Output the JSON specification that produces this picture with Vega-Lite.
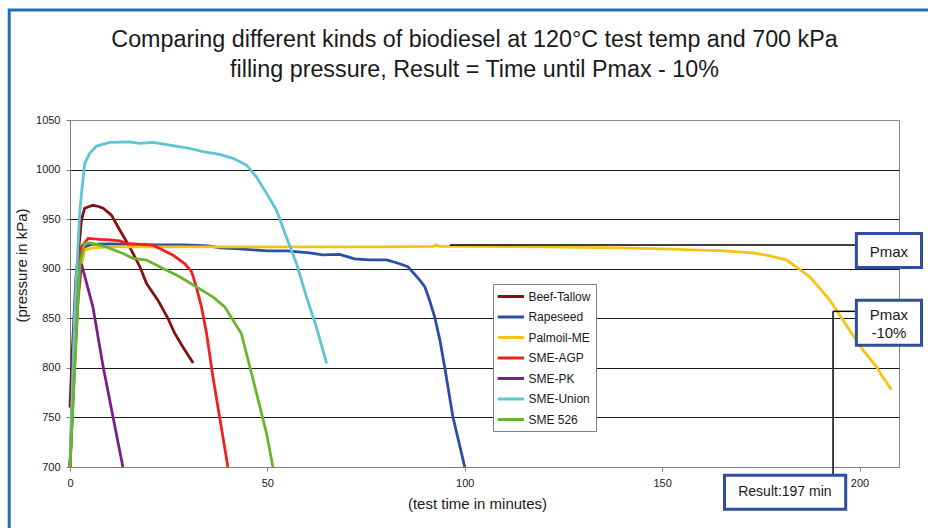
{
  "$schema": "https://vega.github.io/schema/vega-lite/v6.json",
  "width": 829,
  "height": 347,
  "autosize": {"type": "none"},
  "padding": {"left": 70, "top": 120, "right": 29, "bottom": 61},
  "background": "white",
  "config": {"view": {"stroke": "#888888", "strokeWidth": 1}, "font": "Liberation Sans"},
  "title": {
    "text": ["Comparing different kinds of biodiesel at 120°C test temp and 700 kPa", "filling pressure, Result = Time until Pmax - 10%"],
    "fontSize": 23.3,
    "font": "Liberation Sans",
    "fontWeight": "normal",
    "color": "#1a1a1a",
    "lineHeight": 30,
    "anchor": "middle",
    "frame": "group",
    "offset": -74,
    "dx": -10
  },
  "datasets": {
    "curves": [
      {"s": "Beef-Tallow", "t": 0, "p": 760}, {"s": "Beef-Tallow", "t": 0.5, "p": 810}, {"s": "Beef-Tallow", "t": 1.5, "p": 890}, {"s": "Beef-Tallow", "t": 2.9, "p": 949}, {"s": "Beef-Tallow", "t": 3.7, "p": 961}, {"s": "Beef-Tallow", "t": 5.8, "p": 964}, {"s": "Beef-Tallow", "t": 7, "p": 963}, {"s": "Beef-Tallow", "t": 8.4, "p": 961}, {"s": "Beef-Tallow", "t": 10.5, "p": 954}, {"s": "Beef-Tallow", "t": 12.6, "p": 939}, {"s": "Beef-Tallow", "t": 15.1, "p": 922}, {"s": "Beef-Tallow", "t": 17.7, "p": 902}, {"s": "Beef-Tallow", "t": 19.4, "p": 885}, {"s": "Beef-Tallow", "t": 22.3, "p": 868}, {"s": "Beef-Tallow", "t": 24.8, "p": 850}, {"s": "Beef-Tallow", "t": 26.5, "p": 835}, {"s": "Beef-Tallow", "t": 28.6, "p": 821}, {"s": "Beef-Tallow", "t": 31.2, "p": 805},
      {"s": "Rapeseed", "t": 0, "p": 700}, {"s": "Rapeseed", "t": 1, "p": 800}, {"s": "Rapeseed", "t": 2, "p": 880}, {"s": "Rapeseed", "t": 3, "p": 912}, {"s": "Rapeseed", "t": 3.7, "p": 922}, {"s": "Rapeseed", "t": 5.4, "p": 924.5}, {"s": "Rapeseed", "t": 10, "p": 925}, {"s": "Rapeseed", "t": 15, "p": 924.5}, {"s": "Rapeseed", "t": 20, "p": 924}, {"s": "Rapeseed", "t": 25, "p": 924}, {"s": "Rapeseed", "t": 29, "p": 924}, {"s": "Rapeseed", "t": 35, "p": 923}, {"s": "Rapeseed", "t": 38, "p": 921}, {"s": "Rapeseed", "t": 43, "p": 920}, {"s": "Rapeseed", "t": 50, "p": 918}, {"s": "Rapeseed", "t": 55, "p": 918}, {"s": "Rapeseed", "t": 60.7, "p": 916}, {"s": "Rapeseed", "t": 64, "p": 914}, {"s": "Rapeseed", "t": 68.3, "p": 914.5}, {"s": "Rapeseed", "t": 72.1, "p": 910}, {"s": "Rapeseed", "t": 75.9, "p": 909}, {"s": "Rapeseed", "t": 80.2, "p": 909}, {"s": "Rapeseed", "t": 82.7, "p": 906}, {"s": "Rapeseed", "t": 85.6, "p": 902}, {"s": "Rapeseed", "t": 88.6, "p": 888.5}, {"s": "Rapeseed", "t": 89.9, "p": 881.7}, {"s": "Rapeseed", "t": 91.1, "p": 868}, {"s": "Rapeseed", "t": 92.4, "p": 851}, {"s": "Rapeseed", "t": 93.7, "p": 828}, {"s": "Rapeseed", "t": 94.9, "p": 801}, {"s": "Rapeseed", "t": 97, "p": 750.5}, {"s": "Rapeseed", "t": 100, "p": 700},
      {"s": "Palmoil-ME", "t": 0, "p": 700}, {"s": "Palmoil-ME", "t": 1, "p": 790}, {"s": "Palmoil-ME", "t": 2, "p": 865}, {"s": "Palmoil-ME", "t": 3, "p": 905}, {"s": "Palmoil-ME", "t": 3.7, "p": 918.8}, {"s": "Palmoil-ME", "t": 5.8, "p": 921}, {"s": "Palmoil-ME", "t": 10, "p": 922}, {"s": "Palmoil-ME", "t": 20, "p": 922}, {"s": "Palmoil-ME", "t": 40, "p": 922}, {"s": "Palmoil-ME", "t": 60, "p": 922}, {"s": "Palmoil-ME", "t": 80, "p": 922}, {"s": "Palmoil-ME", "t": 92, "p": 922.5}, {"s": "Palmoil-ME", "t": 92.8, "p": 924}, {"s": "Palmoil-ME", "t": 93.6, "p": 922.5}, {"s": "Palmoil-ME", "t": 100, "p": 922.5}, {"s": "Palmoil-ME", "t": 120, "p": 922}, {"s": "Palmoil-ME", "t": 140, "p": 921}, {"s": "Palmoil-ME", "t": 150, "p": 920}, {"s": "Palmoil-ME", "t": 159.5, "p": 918.7}, {"s": "Palmoil-ME", "t": 164.6, "p": 918.3}, {"s": "Palmoil-ME", "t": 173, "p": 916}, {"s": "Palmoil-ME", "t": 176.4, "p": 913.7}, {"s": "Palmoil-ME", "t": 181.5, "p": 909}, {"s": "Palmoil-ME", "t": 184.9, "p": 899}, {"s": "Palmoil-ME", "t": 187.4, "p": 891.8}, {"s": "Palmoil-ME", "t": 190, "p": 880}, {"s": "Palmoil-ME", "t": 192.5, "p": 868}, {"s": "Palmoil-ME", "t": 195, "p": 853}, {"s": "Palmoil-ME", "t": 197.5, "p": 838}, {"s": "Palmoil-ME", "t": 200.9, "p": 817.8}, {"s": "Palmoil-ME", "t": 204.3, "p": 801}, {"s": "Palmoil-ME", "t": 205.6, "p": 792.6}, {"s": "Palmoil-ME", "t": 208.1, "p": 778},
      {"s": "SME-AGP", "t": 0, "p": 700}, {"s": "SME-AGP", "t": 1, "p": 810}, {"s": "SME-AGP", "t": 2, "p": 890}, {"s": "SME-AGP", "t": 2.9, "p": 922}, {"s": "SME-AGP", "t": 4.6, "p": 930.5}, {"s": "SME-AGP", "t": 7.5, "p": 929.5}, {"s": "SME-AGP", "t": 10, "p": 929}, {"s": "SME-AGP", "t": 12.6, "p": 928}, {"s": "SME-AGP", "t": 14.3, "p": 925.5}, {"s": "SME-AGP", "t": 21, "p": 923.8}, {"s": "SME-AGP", "t": 22.7, "p": 920.5}, {"s": "SME-AGP", "t": 26.1, "p": 913.7}, {"s": "SME-AGP", "t": 29.1, "p": 905}, {"s": "SME-AGP", "t": 30.8, "p": 897}, {"s": "SME-AGP", "t": 32, "p": 881.7}, {"s": "SME-AGP", "t": 33.3, "p": 861.5}, {"s": "SME-AGP", "t": 34.6, "p": 834.7}, {"s": "SME-AGP", "t": 36.2, "p": 791}, {"s": "SME-AGP", "t": 37.9, "p": 750.5}, {"s": "SME-AGP", "t": 40, "p": 700},
      {"s": "SME-PK", "t": 0, "p": 700}, {"s": "SME-PK", "t": 1, "p": 790}, {"s": "SME-PK", "t": 2, "p": 870}, {"s": "SME-PK", "t": 2.9, "p": 905}, {"s": "SME-PK", "t": 5.8, "p": 861.5}, {"s": "SME-PK", "t": 8.4, "p": 801}, {"s": "SME-PK", "t": 10.9, "p": 750.5}, {"s": "SME-PK", "t": 13.4, "p": 700},
      {"s": "SME-Union", "t": 0, "p": 705}, {"s": "SME-Union", "t": 1.2, "p": 858}, {"s": "SME-Union", "t": 2.5, "p": 959}, {"s": "SME-Union", "t": 3.7, "p": 1006}, {"s": "SME-Union", "t": 5, "p": 1016.4}, {"s": "SME-Union", "t": 6.7, "p": 1023.7}, {"s": "SME-Union", "t": 10.1, "p": 1027.5}, {"s": "SME-Union", "t": 15.1, "p": 1028}, {"s": "SME-Union", "t": 17.7, "p": 1026.5}, {"s": "SME-Union", "t": 21, "p": 1027.4}, {"s": "SME-Union", "t": 25.3, "p": 1024.7}, {"s": "SME-Union", "t": 29.5, "p": 1022}, {"s": "SME-Union", "t": 33.7, "p": 1018}, {"s": "SME-Union", "t": 37.9, "p": 1015.4}, {"s": "SME-Union", "t": 41.3, "p": 1011.3}, {"s": "SME-Union", "t": 44.7, "p": 1004.6}, {"s": "SME-Union", "t": 47.2, "p": 992.7}, {"s": "SME-Union", "t": 49.8, "p": 976}, {"s": "SME-Union", "t": 52.3, "p": 959}, {"s": "SME-Union", "t": 54.8, "p": 932}, {"s": "SME-Union", "t": 57.4, "p": 905}, {"s": "SME-Union", "t": 59.9, "p": 871.6}, {"s": "SME-Union", "t": 62.4, "p": 841.3}, {"s": "SME-Union", "t": 65, "p": 804.4},
      {"s": "SME 526", "t": 0, "p": 700}, {"s": "SME 526", "t": 1.2, "p": 801}, {"s": "SME 526", "t": 2.5, "p": 905}, {"s": "SME 526", "t": 3.7, "p": 925.5}, {"s": "SME 526", "t": 5, "p": 926}, {"s": "SME 526", "t": 9.2, "p": 922}, {"s": "SME 526", "t": 13.4, "p": 915.4}, {"s": "SME 526", "t": 16, "p": 910.4}, {"s": "SME 526", "t": 19.4, "p": 908.7}, {"s": "SME 526", "t": 22.7, "p": 902}, {"s": "SME 526", "t": 27.8, "p": 891.8}, {"s": "SME 526", "t": 32, "p": 881.7}, {"s": "SME 526", "t": 36.2, "p": 871.6}, {"s": "SME 526", "t": 39.2, "p": 861.5}, {"s": "SME 526", "t": 41.3, "p": 848}, {"s": "SME 526", "t": 43.4, "p": 834.7}, {"s": "SME 526", "t": 46, "p": 794.3}, {"s": "SME 526", "t": 48.1, "p": 760.6}, {"s": "SME 526", "t": 49.8, "p": 733.7}, {"s": "SME 526", "t": 51.4, "p": 700}
    ]
  },
  "layer": [
    {
      "data": {"values": [{}]},
      "mark": {"type": "rect", "fill": null, "fillOpacity": 0, "stroke": "#1E6FC2", "strokeWidth": 3, "clip": false},
      "encoding": {
        "x": {"datum": -15.4, "type": "quantitative", "scale": {"domain": [0, 210], "nice": false}},
        "x2": {"datum": 240},
        "y": {"datum": 1161, "type": "quantitative", "scale": {"domain": [700, 1050], "nice": false}},
        "y2": {"datum": 600}
      }
    },
    {
      "data": {"name": "curves"},
      "mark": {"type": "line", "strokeWidth": 2.8, "clip": false},
      "encoding": {
        "x": {
          "field": "t", "type": "quantitative",
          "scale": {"domain": [0, 210], "nice": false},
          "axis": {
            "values": [0, 50, 100, 150, 200], "grid": false, "format": "d",
            "title": "(test time in minutes)", "titleFont": "Liberation Sans", "titleFontSize": 15, "titleFontWeight": "normal", "titleColor": "#1a1a1a",
            "titleX": 407, "titleY": 36, "titleBaseline": "middle", "titleAlign": "center",
            "labelFont": "Liberation Sans", "labelFontSize": 11, "labelColor": "#1a1a1a", "labelPadding": 6,
            "tickSize": 4, "tickColor": "#808080", "domainColor": "#808080", "labelFlush": false
          }
        },
        "y": {
          "field": "p", "type": "quantitative",
          "scale": {"domain": [700, 1050], "nice": false, "zero": false},
          "axis": {
            "values": [700, 750, 800, 850, 900, 950, 1000, 1050], "format": "d",
            "grid": true,
            "gridColor": {"condition": {"test": "datum.value === 700 || datum.value === 1050", "value": "#888888"}, "value": "#1a1a1a"},
            "gridWidth": 1,
            "title": "(pressure in kPa)", "titleFont": "Liberation Sans", "titleFontSize": 15, "titleFontWeight": "normal", "titleColor": "#1a1a1a",
            "titleX": -49, "titleY": 145, "titleAngle": -90, "titleAlign": "center", "titleBaseline": "middle",
            "labelFont": "Liberation Sans", "labelFontSize": 11, "labelColor": "#1a1a1a", "labelPadding": 6,
            "tickSize": 4, "tickColor": "#808080", "domainColor": "#808080", "labelFlush": false
          }
        },
        "color": {
          "field": "s", "type": "nominal",
          "scale": {
            "domain": ["Beef-Tallow", "Rapeseed", "Palmoil-ME", "SME-AGP", "SME-PK", "SME-Union", "SME 526"],
            "range": ["#861010", "#2B4EA2", "#F6C315", "#F0201E", "#7B1F8C", "#5EC4D6", "#6AB52E"]
          },
          "legend": {
            "orient": "none", "legendX": 423, "legendY": 164, "title": null,
            "strokeColor": "#808080", "fillColor": "white", "padding": 5, "rowPadding": 6.5,
            "symbolType": "M-1.3,0H3.1", "symbolSize": 144, "symbolStrokeWidth": 3,
            "labelFontSize": 12, "labelOffset": 15.4, "labelFont": "Liberation Sans", "labelColor": "#1a1a1a"
          }
        },
        "order": {"field": "t", "type": "quantitative"}
      }
    },
    {
      "data": {"values": [{}]},
      "mark": {"type": "rule", "color": "black", "strokeWidth": 1.5, "clip": false},
      "encoding": {
        "x": {"datum": 96.2, "type": "quantitative", "scale": {"domain": [0, 210], "nice": false}},
        "x2": {"datum": 199.2},
        "y": {"datum": 924, "type": "quantitative", "scale": {"domain": [700, 1050], "nice": false}}
      }
    },
    {
      "data": {"values": [{}]},
      "mark": {"type": "rule", "color": "black", "strokeWidth": 1.5, "clip": false},
      "encoding": {
        "x": {"datum": 193.3, "type": "quantitative", "scale": {"domain": [0, 210], "nice": false}},
        "x2": {"datum": 199.2},
        "y": {"datum": 857, "type": "quantitative", "scale": {"domain": [700, 1050], "nice": false}}
      }
    },
    {
      "data": {"values": [{}]},
      "mark": {"type": "rule", "color": "black", "strokeWidth": 1.5, "clip": false},
      "encoding": {
        "x": {"datum": 193.3, "type": "quantitative", "scale": {"domain": [0, 210], "nice": false}},
        "y": {"datum": 857, "type": "quantitative", "scale": {"domain": [700, 1050], "nice": false}},
        "y2": {"datum": 691.6}
      }
    },
    {
      "data": {"values": [{}]},
      "mark": {"type": "rect", "fill": "white", "stroke": "#2F4E9C", "strokeWidth": 3, "clip": false},
      "encoding": {
        "x": {"datum": 199.2, "type": "quantitative", "scale": {"domain": [0, 210], "nice": false}},
        "x2": {"datum": 215.7},
        "y": {"datum": 935.6, "type": "quantitative", "scale": {"domain": [700, 1050], "nice": false}},
        "y2": {"datum": 901.3}
      }
    },
    {
      "data": {"values": [{}]},
      "mark": {"type": "rect", "fill": "white", "stroke": "#2F4E9C", "strokeWidth": 3, "clip": false},
      "encoding": {
        "x": {"datum": 199.2, "type": "quantitative", "scale": {"domain": [0, 210], "nice": false}},
        "x2": {"datum": 215.7},
        "y": {"datum": 868.3, "type": "quantitative", "scale": {"domain": [700, 1050], "nice": false}},
        "y2": {"datum": 822.9}
      }
    },
    {
      "data": {"values": [{}]},
      "mark": {"type": "rect", "fill": "white", "stroke": "#2F4E9C", "strokeWidth": 3, "clip": false},
      "encoding": {
        "x": {"datum": 165.8, "type": "quantitative", "scale": {"domain": [0, 210], "nice": false}},
        "x2": {"datum": 196.5},
        "y": {"datum": 691.6, "type": "quantitative", "scale": {"domain": [700, 1050], "nice": false}},
        "y2": {"datum": 657.3}
      }
    },
    {
      "data": {"values": [{}]},
      "mark": {"type": "text", "text": "Pmax", "font": "Liberation Sans", "fontSize": 15, "color": "#1a1a1a", "align": "center", "baseline": "middle", "clip": false},
      "encoding": {
        "x": {"datum": 207.45, "type": "quantitative", "scale": {"domain": [0, 210], "nice": false}},
        "y": {"datum": 916.7, "type": "quantitative", "scale": {"domain": [700, 1050], "nice": false}}
      }
    },
    {
      "data": {"values": [{}]},
      "mark": {"type": "text", "text": ["Pmax", "-10%"], "lineHeight": 18, "font": "Liberation Sans", "fontSize": 15, "color": "#1a1a1a", "align": "center", "baseline": "middle", "clip": false},
      "encoding": {
        "x": {"datum": 207.45, "type": "quantitative", "scale": {"domain": [0, 210], "nice": false}},
        "y": {"datum": 853, "type": "quantitative", "scale": {"domain": [700, 1050], "nice": false}}
      }
    },
    {
      "data": {"values": [{}]},
      "mark": {"type": "text", "text": "Result:197 min", "font": "Liberation Sans", "fontSize": 14, "color": "#1a1a1a", "align": "center", "baseline": "middle", "clip": false},
      "encoding": {
        "x": {"datum": 181.1, "type": "quantitative", "scale": {"domain": [0, 210], "nice": false}},
        "y": {"datum": 674.5, "type": "quantitative", "scale": {"domain": [700, 1050], "nice": false}}
      }
    }
  ]
}
